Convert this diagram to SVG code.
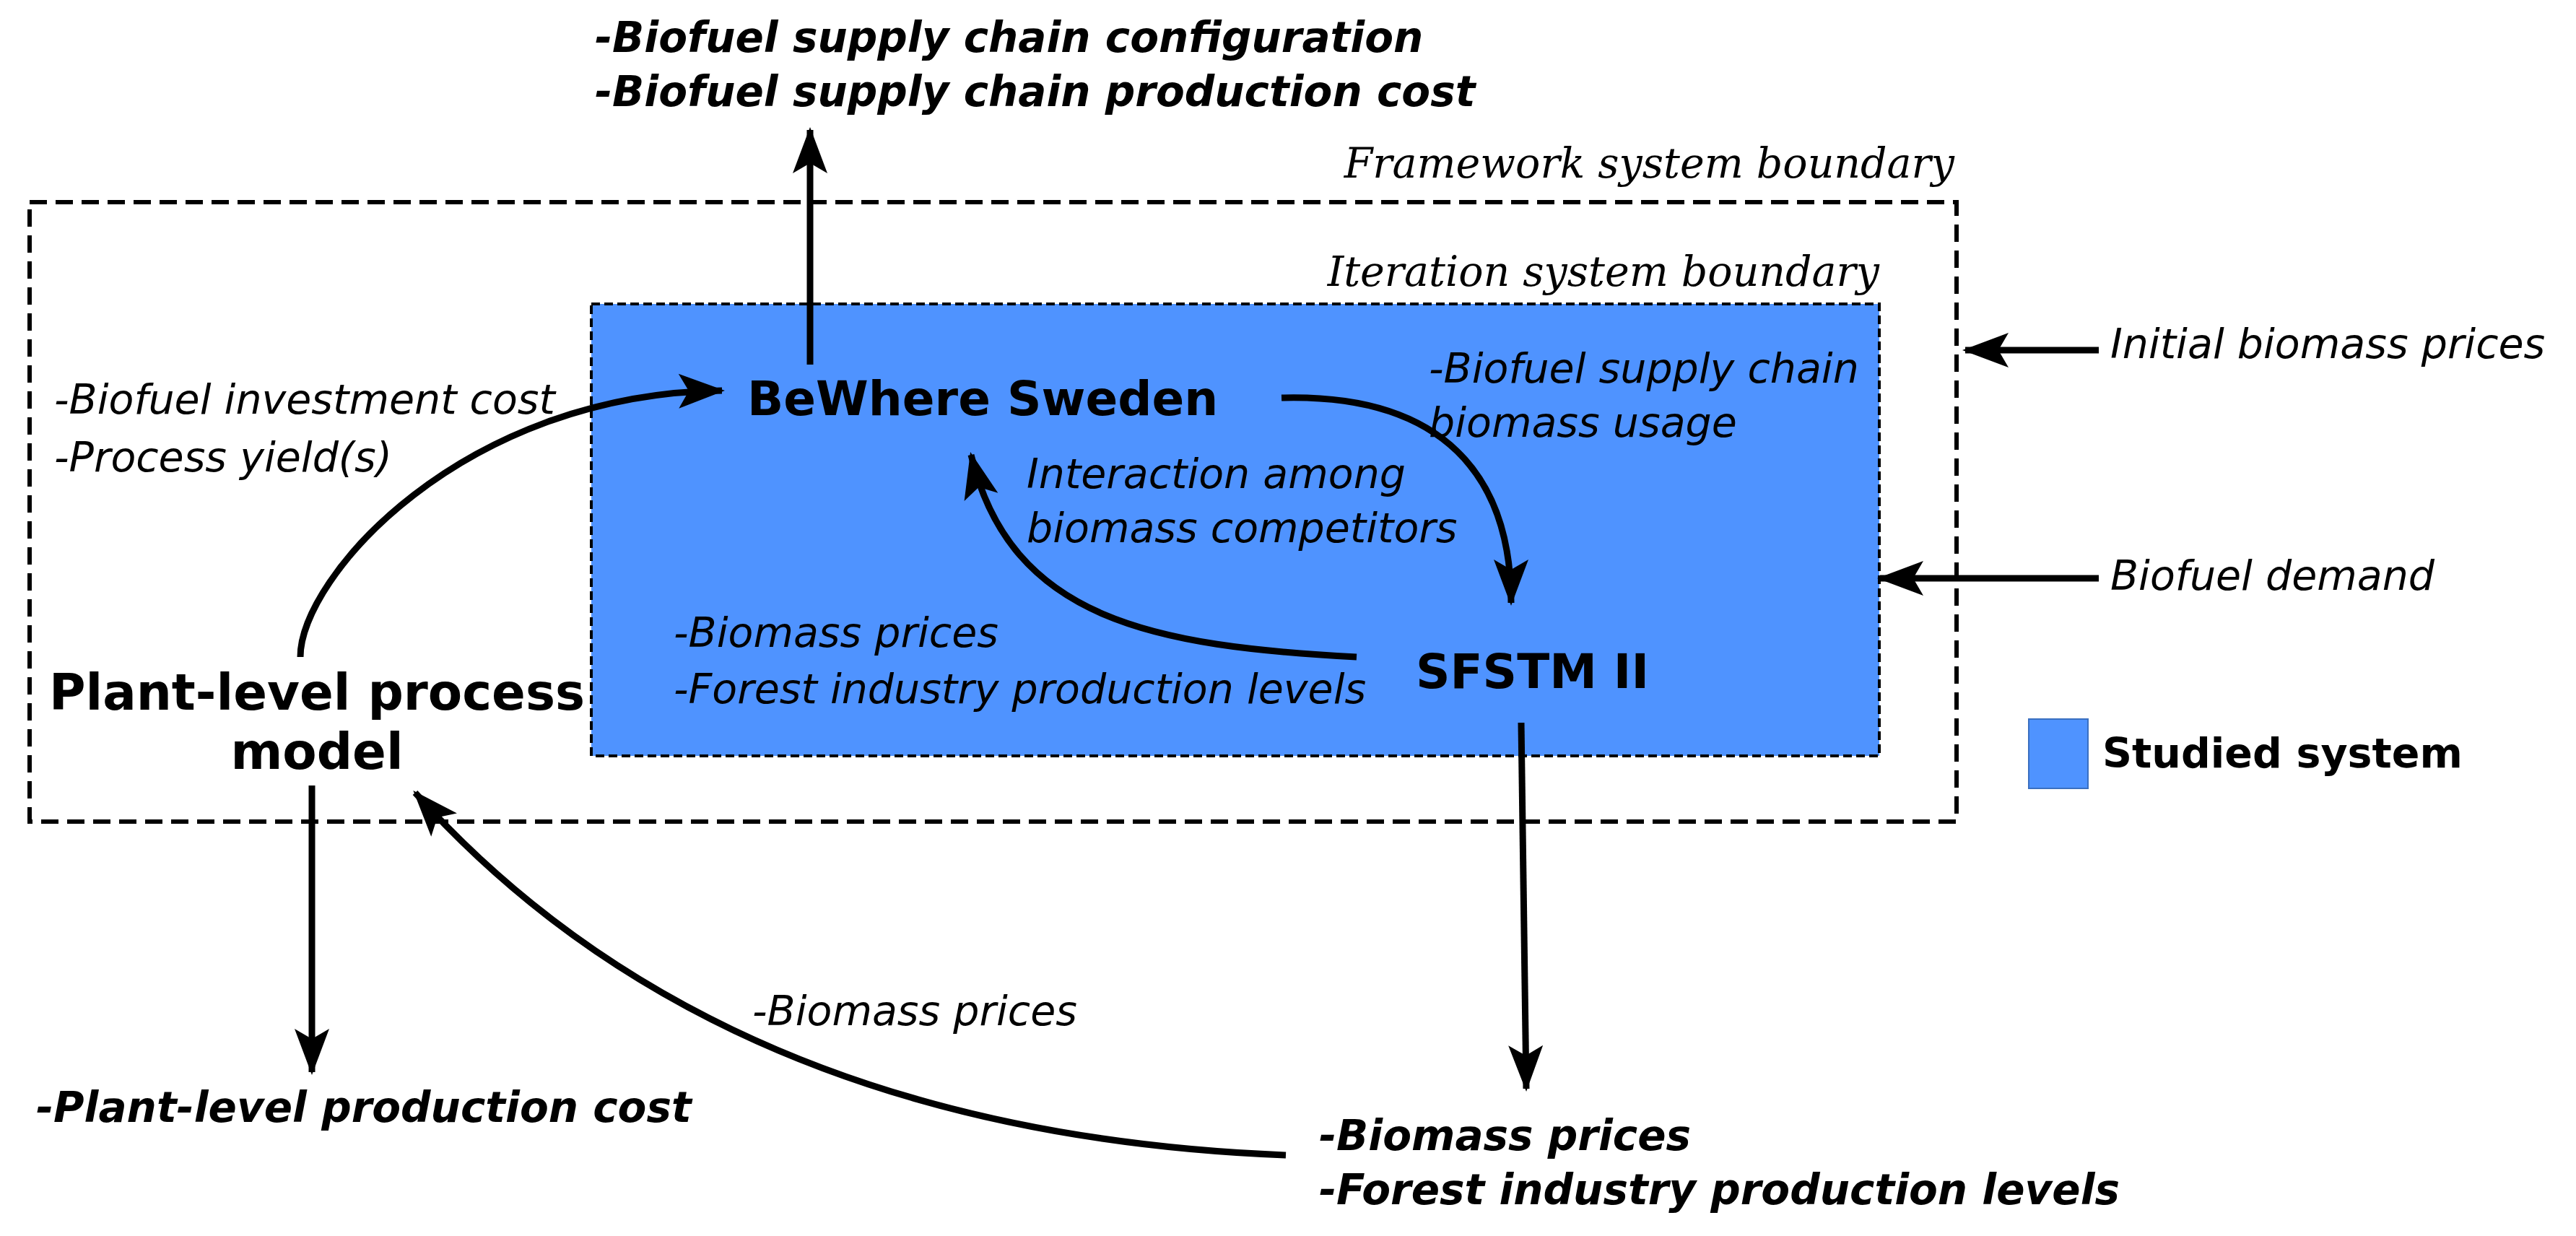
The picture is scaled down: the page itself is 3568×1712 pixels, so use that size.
<svg xmlns="http://www.w3.org/2000/svg" width="3568" height="1712" viewBox="0 0 3568 1712">
<style>
.s{font-family:"DejaVu Sans",sans-serif;font-style:italic;font-size:57px;fill:#000}
.b{font-family:"DejaVu Sans",sans-serif;font-weight:bold;font-size:66px;fill:#000}
.bi{font-family:"DejaVu Sans",sans-serif;font-weight:bold;font-style:italic;font-size:58px;fill:#000}
.sf{font-family:"DejaVu Serif",serif;font-style:italic;font-size:57px;fill:#000}
.c{fill:none;stroke:#000;stroke-width:9;marker-end:url(#a)}
</style>
<defs>
<marker id="a" markerUnits="userSpaceOnUse" markerWidth="80" markerHeight="80" refX="10" refY="0" viewBox="-60 -30 80 60" orient="auto" overflow="visible">
<path d="M14,0 L-50,-24 L-36,0 L-50,24 Z" fill="#000"/>
</marker>
</defs>
<rect width="3568" height="1712" fill="#fff"/>
<g id="framework">
<rect x="41" y="280" width="2669" height="858" fill="none" stroke="#000" stroke-width="6" stroke-dasharray="24,12"/>
<text class="sf" x="2707" y="246" text-anchor="end">Framework system boundary</text>
</g>
<g id="iteration">
<rect x="819" y="421" width="1784" height="626" fill="#4f93ff" stroke="#000" stroke-width="4" stroke-dasharray="12,6"/>
<text class="sf" x="2603" y="396" text-anchor="end">Iteration system boundary</text>
</g>
<g id="bewhere"><text class="b" x="1035" y="575">BeWhere Sweden</text></g>
<g id="sfstm"><text class="b" x="1961" y="953">SFSTM II</text></g>
<g id="plant"><text class="b" x="439" y="983" text-anchor="middle" style="font-size:69px">Plant-level process</text><text class="b" x="439" y="1065" text-anchor="middle" style="font-size:69px">model</text></g>
<g id="legend"><rect x="2810" y="996" width="82" height="96" fill="#4f93ff" stroke="#3a6fc0" stroke-width="2"/><text class="b" x="2912" y="1063" style="font-size:57px">Studied system</text></g>
<g id="labels">
<text class="bi" x="824" y="72">-Biofuel supply chain configuration</text>
<text class="bi" x="824" y="147">-Biofuel supply chain production cost</text>
<text class="s" x="75" y="573">-Biofuel investment cost</text>
<text class="s" x="75" y="653">-Process yield(s)</text>
<text class="s" x="1979" y="530">-Biofuel supply chain</text>
<text class="s" x="1979" y="605">biomass usage</text>
<text class="s" x="1422" y="676">Interaction among</text>
<text class="s" x="1422" y="751">biomass competitors</text>
<text class="s" x="933" y="896">-Biomass prices</text>
<text class="s" x="933" y="974">-Forest industry production levels</text>
<text class="s" x="2923" y="496">Initial biomass prices</text>
<text class="s" x="2923" y="817">Biofuel demand</text>
<text class="bi" x="50" y="1554">-Plant-level production cost</text>
<text class="bi" x="1827" y="1593">-Biomass prices</text>
<text class="bi" x="1827" y="1668">-Forest industry production levels</text>
<text class="s" x="1042" y="1420">-Biomass prices</text>
</g>
<g id="connectors">
<path class="c" d="M1122 505 L1122 180"/>
<path class="c" d="M416 910 C416 800 640 545 1000 541"/>
<path class="c" d="M1775 551 C2000 545 2093 660 2093 835"/>
<path class="c" d="M1879 910 C1600 895 1400 860 1345 630"/>
<path class="c" d="M2907 485 L2722 485"/>
<path class="c" d="M2907 801 L2604 801"/>
<path class="c" d="M432 1088 L432 1485"/>
<path class="c" d="M2107 1001 L2114 1508"/>
<path class="c" d="M1781 1600 C1274 1580 864 1420 575 1098"/>
</g>
</svg>
